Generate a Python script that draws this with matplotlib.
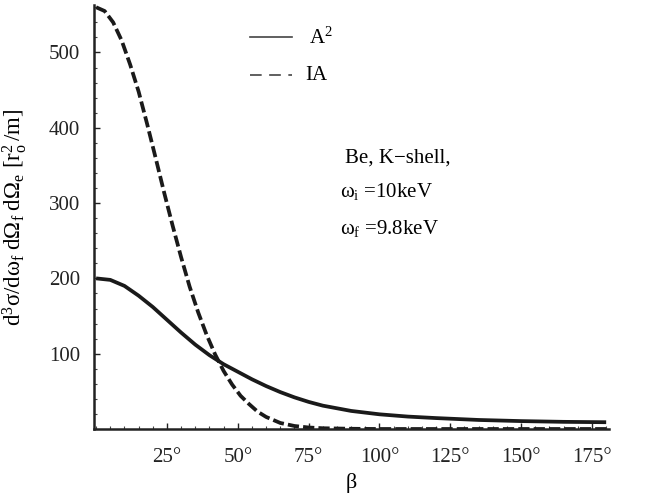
import matplotlib
matplotlib.use("Agg")
import matplotlib.pyplot as plt
from matplotlib.lines import Line2D
from matplotlib.ticker import MultipleLocator, FixedLocator

plt.rcParams['font.family'] = ['Liberation Serif', 'DejaVu Serif']
plt.rcParams['mathtext.fontset'] = 'custom'
plt.rcParams['mathtext.rm'] = 'Liberation Serif'
plt.rcParams['mathtext.it'] = 'Liberation Serif'
plt.rcParams['mathtext.default'] = 'rm'

# Scattering angle beta (degrees) and cross sections [r_o^2/m]
beta_a2 = [0, 5, 10, 15, 20, 25, 30, 35, 40, 45, 50, 55, 60, 65, 70, 75,
           80, 90, 100, 110, 120, 135, 150, 165, 180]
sigma_a2 = [200, 198, 190, 177, 162, 145, 128, 112, 98, 86, 76, 66, 57, 49,
            42, 36, 31, 24, 19.5, 16.5, 14.5, 12, 10.5, 9.5, 9]

beta_ia = [0, 3, 6, 9, 12, 15, 18, 21, 24, 27, 30, 33, 36, 39, 42, 45, 48,
           51, 54, 57, 60, 65, 70, 75, 80, 90, 100, 130, 180]
sigma_ia = [560, 555, 540, 516, 484, 448, 405, 360, 314, 270, 228, 189, 155,
            125, 99, 77, 59, 44, 33, 23, 16, 8, 4, 2, 1, 0.3, 0, 0, 0]

xticks = [25, 50, 75, 100, 125, 150, 175]
xticklabels = ['25°', '50°', '75°', '100°', '125°', '150°', '175°']
yticks = [100, 200, 300, 400, 500]

W, H = 660, 495
fig = plt.figure(figsize=(W / 100, H / 100), dpi=100)
ax = fig.add_axes([94 / W, (H - 429) / H, (609 - 94) / W, (429 - 5) / H])

ax.plot(beta_a2, sigma_a2, color='#1a1a1a', lw=2.7, solid_capstyle='butt',
        solid_joinstyle='round')
ax.plot(beta_ia, sigma_ia, color='#1a1a1a', lw=2.7, dashes=(3.0, 1.1))

ax.set_xlim(-0.75, 181)
ax.set_ylim(0, 563)

for s in ('top', 'right'):
    ax.spines[s].set_visible(False)
for s in ('left', 'bottom'):
    ax.spines[s].set_linewidth(1.8)
    ax.spines[s].set_color('#222222')

ax.xaxis.set_major_locator(FixedLocator(xticks))
ax.set_xticklabels(xticklabels)
ax.xaxis.set_minor_locator(MultipleLocator(5))
ax.yaxis.set_major_locator(FixedLocator(yticks))
ax.yaxis.set_minor_locator(MultipleLocator(20))

ax.tick_params(axis='x', which='major', pad=14)
ax.tick_params(axis='y', which='major', pad=10)
ax.tick_params(axis='both', which='major', direction='in', length=4,
               width=1.0, labelsize=15, colors='#222222')
ax.tick_params(axis='both', which='minor', direction='in', length=2.2,
               width=0.8, colors='#444444')

ax.set_xlabel('β', fontsize=16, labelpad=4)
ax.set_ylabel(r'$d^3σ/dω_f\;dΩ_f\;dΩ_e\ [r_o^2\,/m]$', fontsize=16.5,
              labelpad=14)

# Legend
fig.add_artist(Line2D([250 / W, 292 / W], [1 - 37 / H, 1 - 37 / H],
                      color='#444444', lw=1.2))
fig.add_artist(Line2D([250 / W, 292 / W], [1 - 75 / H, 1 - 75 / H],
                      color='#444444', lw=1.2, dashes=(7, 4.5)))
fig.text(309 / W, 1 - 38 / H, r'$A^2$', fontsize=15, va='center', ha='left')
fig.text(305 / W, 1 - 75 / H, 'IA', fontsize=15, va='center', ha='left')

# Annotation
fig.text(345 / W, 1 - 158 / H, 'Be, K−shell,', fontsize=15, va='center', ha='left')
fig.text(340 / W, 1 - 191 / H, r'$ω_i$ =10keV', fontsize=15, va='center', ha='left')
fig.text(340 / W, 1 - 228 / H, r'$ω_f$ =9.8keV', fontsize=15, va='center', ha='left')

fig.savefig('out.png', dpi=100)
